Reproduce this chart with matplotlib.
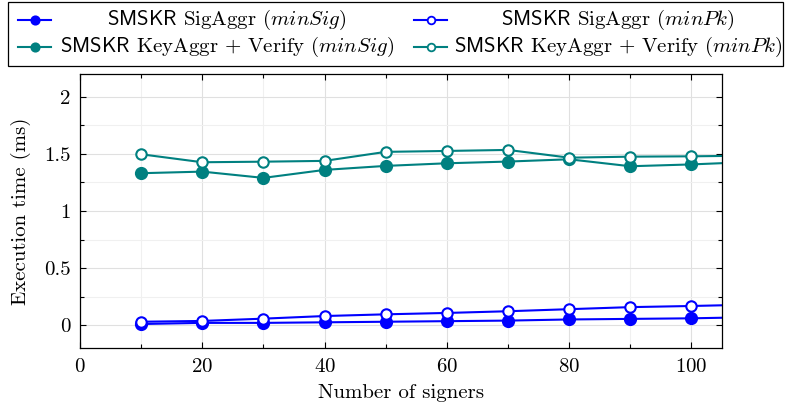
import matplotlib

matplotlib.use("Agg")

import matplotlib.pyplot as plt
from matplotlib.lines import Line2D
from matplotlib.patches import Rectangle
from matplotlib.ticker import MultipleLocator

plt.rcParams["font.family"] = "serif"
plt.rcParams["font.serif"] = ["cmr10"]
plt.rcParams["mathtext.fontset"] = "cm"
plt.rcParams["axes.formatter.use_mathtext"] = True

signers = [10, 20, 30, 40, 50, 60, 70, 80, 90, 100, 110]
sig_aggr_minsig = [0.01, 0.02, 0.02, 0.025, 0.03, 0.035, 0.04, 0.05, 0.055, 0.06, 0.07]
sig_aggr_minpk = [0.03, 0.037, 0.057, 0.08, 0.095, 0.107, 0.122, 0.14, 0.158, 0.168, 0.18]
key_verify_minsig = [1.331, 1.345, 1.29, 1.36, 1.395, 1.418, 1.433, 1.453, 1.392, 1.408, 1.43]
key_verify_minpk = [1.497, 1.427, 1.432, 1.439, 1.518, 1.526, 1.535, 1.467, 1.476, 1.479, 1.485]

labels = [
    r"$\mathsf{SMSKR}$ SigAggr $(minSig)$",
    r"$\mathsf{SMSKR}$ SigAggr $(minPk)$",
    r"$\mathsf{SMSKR}$ KeyAggr $+$ Verify $(minSig)$",
    r"$\mathsf{SMSKR}$ KeyAggr $+$ Verify $(minPk)$",
]

BLUE = "#0000ff"
TEAL = "#008080"
FS = 15

W, H = 790, 411
fig = plt.figure(figsize=(W / 100, H / 100), dpi=100)
ax = fig.add_axes([80 / W, 1 - 348 / H, 642 / W, 274 / H])

styles = [
    (sig_aggr_minsig, BLUE, True),
    (sig_aggr_minpk, BLUE, False),
    (key_verify_minsig, TEAL, True),
    (key_verify_minpk, TEAL, False),
]
for values, color, filled in styles:
    ax.plot(
        signers,
        values,
        color=color,
        lw=1.5,
        marker="o",
        ms=8 if filled else 7.5,
        mfc=color if filled else "white",
        mec=color,
        mew=1.5,
    )

ax.set_xlim(0, 105)
ax.set_ylim(-0.2, 2.2)
ax.xaxis.set_major_locator(MultipleLocator(20))
ax.xaxis.set_minor_locator(MultipleLocator(10))
ax.yaxis.set_major_locator(MultipleLocator(0.5))
ax.yaxis.set_minor_locator(MultipleLocator(0.25))
ax.set_yticks([0, 0.5, 1, 1.5, 2])
ax.set_yticklabels(["0", "0.5", "1", "1.5", "2"])
ax.tick_params(which="both", direction="in", top=True, right=True, labelsize=FS, width=0.8)
ax.tick_params(which="major", length=4.5, pad=7)
ax.tick_params(which="minor", length=3)
ax.grid(True, which="major", color="#e0e0e0", lw=0.8)
ax.grid(True, which="minor", color="#f0f0f0", lw=0.8)
ax.set_axisbelow(True)
for s in ax.spines.values():
    s.set_linewidth(0.9)

ax.set_xlabel("Number of signers", fontsize=FS, labelpad=6)
ax.set_ylabel("Execution time (ms)", fontsize=FS, labelpad=9)

# legend box drawn by hand so the entries can be centred like pgfplots
fig.patches.append(Rectangle((8 / W, 1 - 66 / H), 775 / W, 64 / H,
                             transform=fig.transFigure, fill=False, lw=0.9, ec="black"))
rows = [1 - 20 / H, 1 - 47 / H]
cols = [(18, 51, 227), (414, 447, 618)]
for i, (values, color, filled) in enumerate(styles):
    r, c = divmod(i, 2)
    x0, x1, xt = cols[c]
    y = rows[r]
    fig.lines.append(Line2D([x0 / W, x1 / W], [y, y], transform=fig.transFigure,
                            color=color, lw=1.5))
    fig.lines.append(Line2D([(x0 + x1) / 2 / W], [y], transform=fig.transFigure,
                            color=color, marker="o", ms=6 if filled else 5.5,
                            mfc=color if filled else "white", mec=color, mew=1.3))
    fig.text(xt / W, y, labels[i], ha="center", va="center", fontsize=FS)

fig.savefig("out.png", dpi=100)
